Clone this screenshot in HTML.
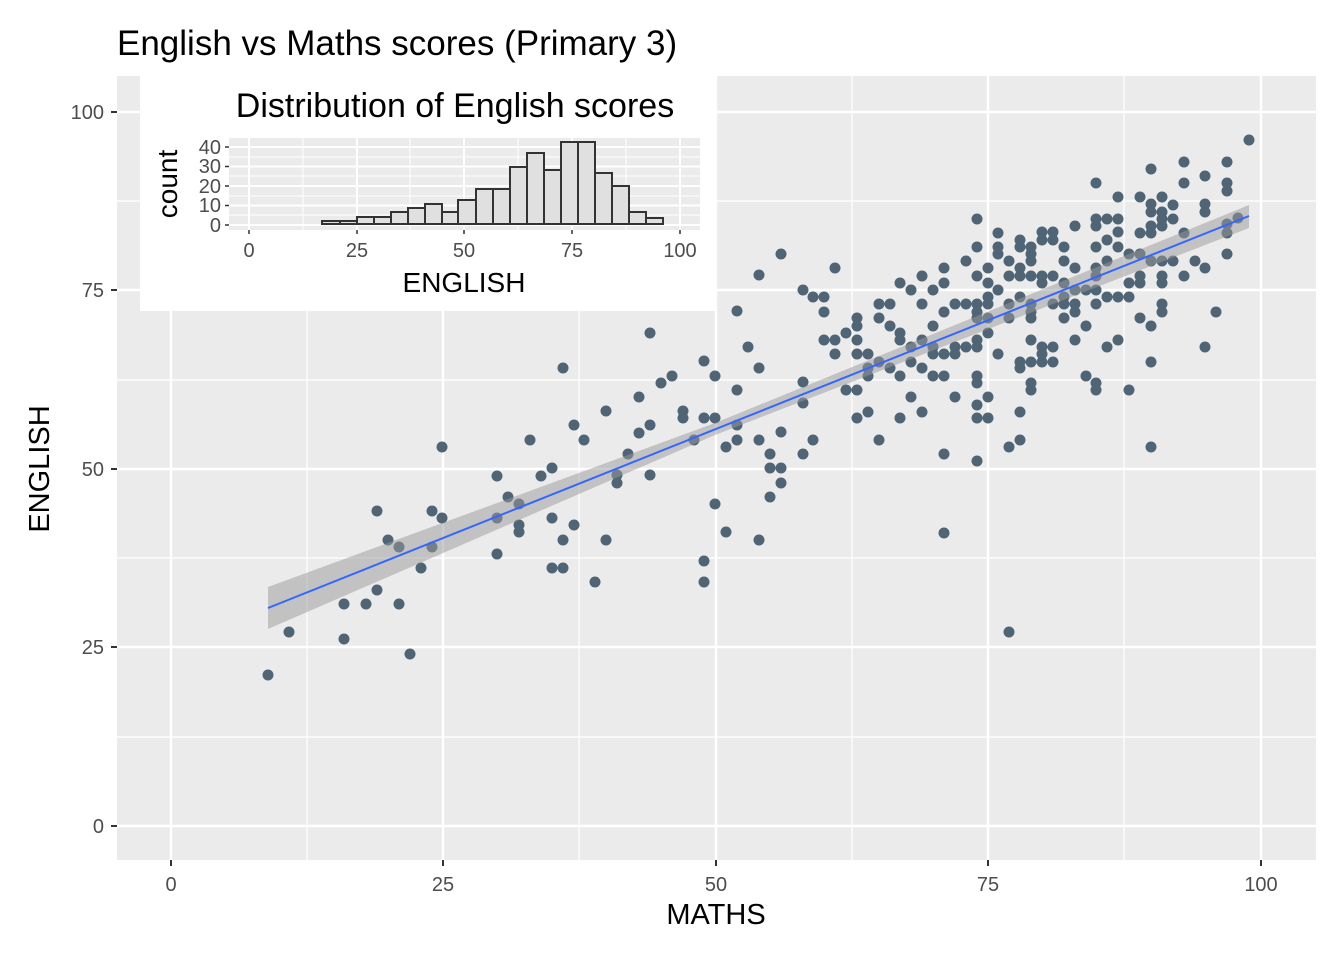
<!DOCTYPE html>
<html><head><meta charset="utf-8"><style>html,body{margin:0;padding:0;background:#fff}svg{display:block}text{font-family:"Liberation Sans",Arial,sans-serif}</style></head><body>
<svg width="1344" height="960" xmlns="http://www.w3.org/2000/svg">
<rect width="1344" height="960" fill="#fff"/>
<rect x="117" y="76" width="1199" height="784" fill="#ebebeb"/>
<g stroke="#fff" stroke-width="1.2">
<line x1="307" y1="76" x2="307" y2="860"/><line x1="579" y1="76" x2="579" y2="860"/><line x1="852" y1="76" x2="852" y2="860"/><line x1="1124" y1="76" x2="1124" y2="860"/>
<line x1="117" y1="737" x2="1316" y2="737"/><line x1="117" y1="558" x2="1316" y2="558"/><line x1="117" y1="380" x2="1316" y2="380"/><line x1="117" y1="201" x2="1316" y2="201"/>
</g>
<g stroke="#fff" stroke-width="2.4">
<line x1="171" y1="76" x2="171" y2="860"/><line x1="443" y1="76" x2="443" y2="860"/><line x1="716" y1="76" x2="716" y2="860"/><line x1="988" y1="76" x2="988" y2="860"/><line x1="1261" y1="76" x2="1261" y2="860"/>
<line x1="117" y1="826" x2="1316" y2="826"/><line x1="117" y1="647" x2="1316" y2="647"/><line x1="117" y1="469" x2="1316" y2="469"/><line x1="117" y1="290" x2="1316" y2="290"/><line x1="117" y1="112" x2="1316" y2="112"/>
</g>
<g fill="#4f6575">
<circle cx="268" cy="675" r="5.5"/><circle cx="289" cy="632" r="5.5"/><circle cx="344" cy="604" r="5.5"/><circle cx="344" cy="639" r="5.5"/><circle cx="366" cy="604" r="5.5"/><circle cx="377" cy="511" r="5.5"/><circle cx="377" cy="590" r="5.5"/><circle cx="388" cy="540" r="5.5"/><circle cx="399" cy="547" r="5.5"/><circle cx="399" cy="604" r="5.5"/><circle cx="410" cy="654" r="5.5"/><circle cx="421" cy="568" r="5.5"/><circle cx="432" cy="511" r="5.5"/><circle cx="432" cy="547" r="5.5"/><circle cx="442" cy="518" r="5.5"/><circle cx="442" cy="447" r="5.5"/><circle cx="497" cy="476" r="5.5"/><circle cx="497" cy="518" r="5.5"/><circle cx="497" cy="554" r="5.5"/><circle cx="508" cy="497" r="5.5"/><circle cx="519" cy="504" r="5.5"/><circle cx="519" cy="532" r="5.5"/><circle cx="519" cy="525" r="5.5"/><circle cx="530" cy="440" r="5.5"/><circle cx="541" cy="476" r="5.5"/><circle cx="552" cy="468" r="5.5"/><circle cx="552" cy="518" r="5.5"/><circle cx="552" cy="568" r="5.5"/><circle cx="563" cy="568" r="5.5"/><circle cx="563" cy="540" r="5.5"/><circle cx="563" cy="368" r="5.5"/><circle cx="574" cy="425" r="5.5"/><circle cx="584" cy="440" r="5.5"/><circle cx="574" cy="525" r="5.5"/><circle cx="595" cy="582" r="5.5"/><circle cx="606" cy="411" r="5.5"/><circle cx="606" cy="540" r="5.5"/><circle cx="617" cy="475" r="5.5"/><circle cx="617" cy="483" r="5.5"/><circle cx="628" cy="454" r="5.5"/><circle cx="639" cy="397" r="5.5"/><circle cx="639" cy="433" r="5.5"/><circle cx="650" cy="333" r="5.5"/><circle cx="650" cy="425" r="5.5"/><circle cx="650" cy="475" r="5.5"/><circle cx="661" cy="383" r="5.5"/><circle cx="672" cy="376" r="5.5"/><circle cx="683" cy="411" r="5.5"/><circle cx="683" cy="418" r="5.5"/><circle cx="694" cy="440" r="5.5"/><circle cx="704" cy="361" r="5.5"/><circle cx="704" cy="418" r="5.5"/><circle cx="704" cy="561" r="5.5"/><circle cx="704" cy="582" r="5.5"/><circle cx="715" cy="376" r="5.5"/><circle cx="715" cy="418" r="5.5"/><circle cx="715" cy="504" r="5.5"/><circle cx="726" cy="447" r="5.5"/><circle cx="726" cy="532" r="5.5"/><circle cx="737" cy="311" r="5.5"/><circle cx="737" cy="390" r="5.5"/><circle cx="737" cy="425" r="5.5"/><circle cx="737" cy="440" r="5.5"/><circle cx="748" cy="347" r="5.5"/><circle cx="759" cy="275" r="5.5"/><circle cx="759" cy="368" r="5.5"/><circle cx="759" cy="440" r="5.5"/><circle cx="759" cy="540" r="5.5"/><circle cx="770" cy="454" r="5.5"/><circle cx="770" cy="497" r="5.5"/><circle cx="781" cy="432" r="5.5"/><circle cx="781" cy="468" r="5.5"/><circle cx="781" cy="483" r="5.5"/><circle cx="781" cy="254" r="5.5"/><circle cx="770" cy="468" r="5.5"/><circle cx="944" cy="533" r="5.5"/><circle cx="1009" cy="632" r="5.5"/>
<circle cx="1249" cy="140" r="5.5"/><circle cx="1184" cy="162" r="5.5"/><circle cx="1227" cy="162" r="5.5"/><circle cx="1151" cy="169" r="5.5"/><circle cx="1096" cy="183" r="5.5"/><circle cx="1184" cy="183" r="5.5"/><circle cx="1205" cy="176" r="5.5"/><circle cx="1227" cy="183" r="5.5"/><circle cx="1227" cy="191" r="5.5"/><circle cx="1118" cy="197" r="5.5"/><circle cx="1140" cy="197" r="5.5"/><circle cx="1162" cy="197" r="5.5"/><circle cx="1151" cy="204" r="5.5"/><circle cx="1173" cy="205" r="5.5"/><circle cx="1205" cy="204" r="5.5"/><circle cx="1205" cy="212" r="5.5"/><circle cx="1151" cy="212" r="5.5"/><circle cx="1162" cy="212" r="5.5"/><circle cx="977" cy="219" r="5.5"/><circle cx="1096" cy="219" r="5.5"/><circle cx="1107" cy="219" r="5.5"/><circle cx="1118" cy="219" r="5.5"/><circle cx="1162" cy="219" r="5.5"/><circle cx="1173" cy="219" r="5.5"/><circle cx="1075" cy="226" r="5.5"/><circle cx="1096" cy="226" r="5.5"/><circle cx="1151" cy="226" r="5.5"/><circle cx="1162" cy="226" r="5.5"/><circle cx="1227" cy="224" r="5.5"/><circle cx="1238" cy="218" r="5.5"/><circle cx="998" cy="233" r="5.5"/><circle cx="1042" cy="232" r="5.5"/><circle cx="1053" cy="232" r="5.5"/><circle cx="1118" cy="232" r="5.5"/><circle cx="1140" cy="233" r="5.5"/><circle cx="1151" cy="233" r="5.5"/><circle cx="1184" cy="233" r="5.5"/><circle cx="1227" cy="233" r="5.5"/><circle cx="1020" cy="240" r="5.5"/><circle cx="1042" cy="240" r="5.5"/><circle cx="1053" cy="240" r="5.5"/><circle cx="1107" cy="240" r="5.5"/><circle cx="977" cy="247" r="5.5"/><circle cx="998" cy="247" r="5.5"/><circle cx="1020" cy="247" r="5.5"/><circle cx="1031" cy="247" r="5.5"/><circle cx="1064" cy="247" r="5.5"/><circle cx="1096" cy="247" r="5.5"/><circle cx="1118" cy="247" r="5.5"/><circle cx="998" cy="254" r="5.5"/><circle cx="1031" cy="254" r="5.5"/><circle cx="1129" cy="254" r="5.5"/><circle cx="1140" cy="254" r="5.5"/><circle cx="1227" cy="254" r="5.5"/><circle cx="966" cy="261" r="5.5"/><circle cx="1009" cy="261" r="5.5"/><circle cx="1031" cy="261" r="5.5"/><circle cx="1064" cy="261" r="5.5"/><circle cx="1107" cy="261" r="5.5"/><circle cx="1151" cy="261" r="5.5"/><circle cx="1162" cy="261" r="5.5"/><circle cx="1173" cy="261" r="5.5"/><circle cx="1195" cy="261" r="5.5"/><circle cx="835" cy="268" r="5.5"/><circle cx="944" cy="268" r="5.5"/><circle cx="988" cy="268" r="5.5"/><circle cx="1020" cy="268" r="5.5"/><circle cx="1075" cy="268" r="5.5"/><circle cx="1096" cy="268" r="5.5"/><circle cx="1205" cy="268" r="5.5"/><circle cx="922" cy="276" r="5.5"/><circle cx="977" cy="276" r="5.5"/><circle cx="1009" cy="276" r="5.5"/><circle cx="1020" cy="276" r="5.5"/><circle cx="1031" cy="276" r="5.5"/><circle cx="1042" cy="276" r="5.5"/><circle cx="1053" cy="276" r="5.5"/><circle cx="1096" cy="276" r="5.5"/><circle cx="1140" cy="276" r="5.5"/><circle cx="1162" cy="276" r="5.5"/><circle cx="1184" cy="276" r="5.5"/><circle cx="900" cy="283" r="5.5"/><circle cx="944" cy="283" r="5.5"/><circle cx="988" cy="283" r="5.5"/><circle cx="1042" cy="283" r="5.5"/><circle cx="1064" cy="283" r="5.5"/><circle cx="1129" cy="283" r="5.5"/><circle cx="1140" cy="283" r="5.5"/><circle cx="1162" cy="283" r="5.5"/><circle cx="803" cy="290" r="5.5"/><circle cx="911" cy="290" r="5.5"/><circle cx="933" cy="290" r="5.5"/><circle cx="998" cy="290" r="5.5"/><circle cx="1075" cy="290" r="5.5"/><circle cx="1086" cy="290" r="5.5"/><circle cx="1096" cy="290" r="5.5"/><circle cx="813" cy="297" r="5.5"/><circle cx="824" cy="297" r="5.5"/><circle cx="988" cy="297" r="5.5"/><circle cx="1020" cy="297" r="5.5"/><circle cx="1064" cy="297" r="5.5"/><circle cx="1107" cy="297" r="5.5"/><circle cx="1118" cy="297" r="5.5"/><circle cx="1129" cy="297" r="5.5"/><circle cx="879" cy="304" r="5.5"/><circle cx="890" cy="304" r="5.5"/><circle cx="922" cy="304" r="5.5"/><circle cx="955" cy="304" r="5.5"/><circle cx="966" cy="304" r="5.5"/><circle cx="977" cy="304" r="5.5"/><circle cx="988" cy="304" r="5.5"/><circle cx="1009" cy="304" r="5.5"/><circle cx="1031" cy="304" r="5.5"/><circle cx="1053" cy="304" r="5.5"/><circle cx="1064" cy="304" r="5.5"/><circle cx="1075" cy="304" r="5.5"/><circle cx="1096" cy="304" r="5.5"/><circle cx="1162" cy="304" r="5.5"/><circle cx="824" cy="312" r="5.5"/><circle cx="944" cy="312" r="5.5"/><circle cx="977" cy="312" r="5.5"/><circle cx="1031" cy="312" r="5.5"/><circle cx="1075" cy="312" r="5.5"/><circle cx="1162" cy="312" r="5.5"/><circle cx="1216" cy="312" r="5.5"/><circle cx="857" cy="318" r="5.5"/><circle cx="879" cy="318" r="5.5"/><circle cx="977" cy="318" r="5.5"/><circle cx="988" cy="318" r="5.5"/><circle cx="1009" cy="318" r="5.5"/><circle cx="1031" cy="318" r="5.5"/><circle cx="1064" cy="318" r="5.5"/><circle cx="1140" cy="318" r="5.5"/><circle cx="857" cy="326" r="5.5"/><circle cx="890" cy="326" r="5.5"/><circle cx="933" cy="326" r="5.5"/><circle cx="1086" cy="326" r="5.5"/><circle cx="1151" cy="326" r="5.5"/><circle cx="846" cy="333" r="5.5"/><circle cx="900" cy="333" r="5.5"/><circle cx="988" cy="333" r="5.5"/><circle cx="824" cy="340" r="5.5"/><circle cx="835" cy="340" r="5.5"/><circle cx="857" cy="340" r="5.5"/><circle cx="900" cy="340" r="5.5"/><circle cx="922" cy="340" r="5.5"/><circle cx="977" cy="340" r="5.5"/><circle cx="1031" cy="340" r="5.5"/><circle cx="1075" cy="340" r="5.5"/><circle cx="1118" cy="340" r="5.5"/><circle cx="911" cy="347" r="5.5"/><circle cx="933" cy="347" r="5.5"/><circle cx="955" cy="347" r="5.5"/><circle cx="966" cy="347" r="5.5"/><circle cx="977" cy="347" r="5.5"/><circle cx="1042" cy="347" r="5.5"/><circle cx="1053" cy="347" r="5.5"/><circle cx="1107" cy="347" r="5.5"/><circle cx="1205" cy="347" r="5.5"/><circle cx="835" cy="354" r="5.5"/><circle cx="857" cy="354" r="5.5"/><circle cx="868" cy="354" r="5.5"/><circle cx="933" cy="354" r="5.5"/><circle cx="944" cy="354" r="5.5"/><circle cx="955" cy="354" r="5.5"/><circle cx="998" cy="354" r="5.5"/><circle cx="1042" cy="354" r="5.5"/><circle cx="879" cy="362" r="5.5"/><circle cx="911" cy="362" r="5.5"/><circle cx="1020" cy="362" r="5.5"/><circle cx="1031" cy="362" r="5.5"/><circle cx="1042" cy="362" r="5.5"/><circle cx="1053" cy="362" r="5.5"/><circle cx="1151" cy="362" r="5.5"/><circle cx="868" cy="368" r="5.5"/><circle cx="890" cy="368" r="5.5"/><circle cx="922" cy="368" r="5.5"/><circle cx="1020" cy="368" r="5.5"/><circle cx="803" cy="382" r="5.5"/><circle cx="868" cy="376" r="5.5"/><circle cx="900" cy="376" r="5.5"/><circle cx="933" cy="376" r="5.5"/><circle cx="944" cy="376" r="5.5"/><circle cx="977" cy="376" r="5.5"/><circle cx="1086" cy="376" r="5.5"/><circle cx="977" cy="383" r="5.5"/><circle cx="1031" cy="383" r="5.5"/><circle cx="1096" cy="383" r="5.5"/><circle cx="846" cy="390" r="5.5"/><circle cx="857" cy="390" r="5.5"/><circle cx="1031" cy="390" r="5.5"/><circle cx="1096" cy="390" r="5.5"/><circle cx="1129" cy="390" r="5.5"/><circle cx="803" cy="403" r="5.5"/><circle cx="911" cy="397" r="5.5"/><circle cx="955" cy="397" r="5.5"/><circle cx="988" cy="397" r="5.5"/><circle cx="977" cy="405" r="5.5"/><circle cx="868" cy="412" r="5.5"/><circle cx="922" cy="412" r="5.5"/><circle cx="1020" cy="412" r="5.5"/><circle cx="857" cy="418" r="5.5"/><circle cx="900" cy="418" r="5.5"/><circle cx="977" cy="418" r="5.5"/><circle cx="988" cy="418" r="5.5"/><circle cx="813" cy="440" r="5.5"/><circle cx="879" cy="440" r="5.5"/><circle cx="1009" cy="447" r="5.5"/><circle cx="1020" cy="440" r="5.5"/><circle cx="1151" cy="447" r="5.5"/><circle cx="944" cy="454" r="5.5"/><circle cx="803" cy="454" r="5.5"/><circle cx="977" cy="461" r="5.5"/>
</g>
<polygon points="268,587 715,423 1249,205 1249,228 715,435 268,629" fill="#999" fill-opacity="0.5"/>
<line x1="268" y1="608" x2="1249" y2="216" stroke="#3366ff" stroke-width="2"/>
<g stroke="#333" stroke-width="2">
<line x1="171" y1="860" x2="171" y2="866"/><line x1="443" y1="860" x2="443" y2="866"/><line x1="716" y1="860" x2="716" y2="866"/><line x1="988" y1="860" x2="988" y2="866"/><line x1="1261" y1="860" x2="1261" y2="866"/>
<line x1="111" y1="826" x2="117" y2="826"/><line x1="111" y1="647" x2="117" y2="647"/><line x1="111" y1="469" x2="117" y2="469"/><line x1="111" y1="290" x2="117" y2="290"/><line x1="111" y1="112" x2="117" y2="112"/>
</g>
<g fill="#4d4d4d" font-size="20" text-anchor="middle">
<text x="171" y="891">0</text><text x="443" y="891">25</text><text x="716" y="891">50</text><text x="988" y="891">75</text><text x="1261" y="891">100</text>
</g>
<g fill="#4d4d4d" font-size="20" text-anchor="end">
<text x="104" y="833">0</text><text x="104" y="654">25</text><text x="104" y="476">50</text><text x="104" y="297">75</text><text x="104" y="119">100</text>
</g>
<text x="716" y="924" font-size="29" text-anchor="middle">MATHS</text>
<text transform="translate(49,469) rotate(-90)" font-size="29" text-anchor="middle">ENGLISH</text>
<text x="117" y="55" font-size="35">English vs Maths scores (Primary 3)</text>

<rect x="140" y="76" width="576" height="235" fill="#fff"/>
<rect x="229" y="138" width="471" height="92" fill="#ebebeb"/>
<g stroke="#fff" stroke-width="1">
<line x1="303" y1="138" x2="303" y2="230"/><line x1="410" y1="138" x2="410" y2="230"/><line x1="518" y1="138" x2="518" y2="230"/><line x1="626" y1="138" x2="626" y2="230"/>
<line x1="229" y1="215" x2="700" y2="215"/><line x1="229" y1="196" x2="700" y2="196"/><line x1="229" y1="176" x2="700" y2="176"/><line x1="229" y1="157" x2="700" y2="157"/>
</g>
<g stroke="#fff" stroke-width="2">
<line x1="249" y1="138" x2="249" y2="230"/><line x1="357" y1="138" x2="357" y2="230"/><line x1="464" y1="138" x2="464" y2="230"/><line x1="572" y1="138" x2="572" y2="230"/><line x1="680" y1="138" x2="680" y2="230"/>
<line x1="229" y1="225" x2="700" y2="225"/><line x1="229" y1="205.5" x2="700" y2="205.5"/><line x1="229" y1="186" x2="700" y2="186"/><line x1="229" y1="166.5" x2="700" y2="166.5"/><line x1="229" y1="147" x2="700" y2="147"/>
</g>
<g fill="#e0e0e0" stroke="#333" stroke-width="2">
<rect x="322" y="221" width="18" height="3"/><rect x="340" y="221" width="17" height="3"/><rect x="357" y="217" width="17" height="7"/><rect x="374" y="217" width="17" height="7"/><rect x="391" y="212" width="17" height="12"/><rect x="408" y="208" width="17" height="16"/><rect x="425" y="204" width="17" height="20"/><rect x="442" y="212" width="16" height="12"/><rect x="458" y="200" width="18" height="24"/><rect x="476" y="189" width="17" height="35"/><rect x="493" y="189" width="17" height="35"/><rect x="510" y="167" width="17" height="57"/><rect x="527" y="153" width="17" height="71"/><rect x="544" y="170" width="17" height="54"/><rect x="561" y="142" width="17" height="82"/><rect x="578" y="142" width="17" height="82"/><rect x="595" y="173" width="17" height="51"/><rect x="612" y="186" width="17" height="38"/><rect x="629" y="212" width="17" height="12"/><rect x="646" y="218" width="17" height="6"/>
</g>
<g stroke="#333" stroke-width="1.5">
<line x1="249" y1="230" x2="249" y2="234"/><line x1="357" y1="230" x2="357" y2="234"/><line x1="464" y1="230" x2="464" y2="234"/><line x1="572" y1="230" x2="572" y2="234"/><line x1="680" y1="230" x2="680" y2="234"/>
<line x1="225" y1="225" x2="229" y2="225"/><line x1="225" y1="205.5" x2="229" y2="205.5"/><line x1="225" y1="186" x2="229" y2="186"/><line x1="225" y1="166.5" x2="229" y2="166.5"/><line x1="225" y1="147" x2="229" y2="147"/>
</g>
<g fill="#4d4d4d" font-size="20" text-anchor="middle">
<text x="249" y="257">0</text><text x="357" y="257">25</text><text x="464" y="257">50</text><text x="572" y="257">75</text><text x="680" y="257">100</text>
</g>
<g fill="#4d4d4d" font-size="20" text-anchor="end">
<text x="221" y="232">0</text><text x="221" y="212">10</text><text x="221" y="193">20</text><text x="221" y="173">30</text><text x="221" y="154">40</text>
</g>
<text x="464" y="292" font-size="28" text-anchor="middle">ENGLISH</text>
<text transform="translate(177,184) rotate(-90)" font-size="28" text-anchor="middle">count</text>
<text x="455" y="117" font-size="34" text-anchor="middle">Distribution of English scores</text>
</svg>
</body></html>
